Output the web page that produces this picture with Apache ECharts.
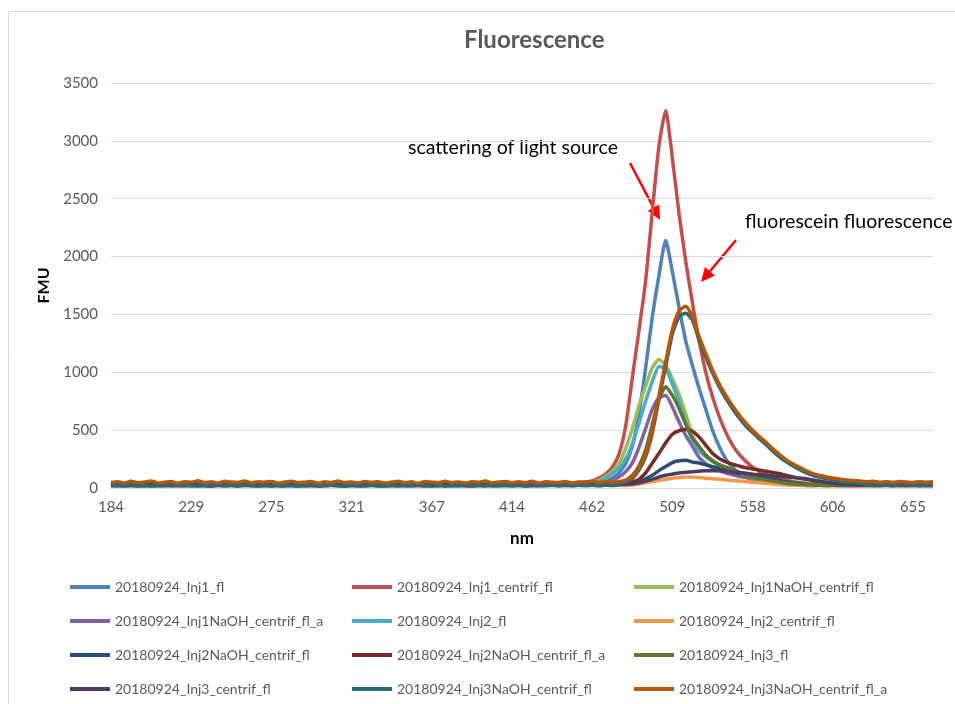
<!DOCTYPE html>
<html>
<head>
<meta charset="UTF-8">
<title>Fluorescence</title>
<script src="https://cdn.jsdelivr.net/npm/echarts@6/dist/echarts.min.js"></script>
<style>
  html, body { margin: 0; padding: 0; background: #fff; }
  #chart { width: 955px; height: 704px; }
</style>
</head>
<body>
<div id="chart"></div>
<script>
// wavelength labels shown on the x axis (every 12th category)
const nmTicks = [184, 229, 275, 321, 367, 414, 462, 509, 558, 606, 655];
const stepsPerTick = 12;
const tailSteps = 4;

const seriesNames = [
  '20180924_Inj1_fl', '20180924_Inj1_centrif_fl', '20180924_Inj1NaOH_centrif_fl',
  '20180924_Inj1NaOH_centrif_fl_a', '20180924_Inj2_fl', '20180924_Inj2_centrif_fl',
  '20180924_Inj2NaOH_centrif_fl', '20180924_Inj2NaOH_centrif_fl_a', '20180924_Inj3_fl',
  '20180924_Inj3_centrif_fl', '20180924_Inj3NaOH_centrif_fl', '20180924_Inj3NaOH_centrif_fl_a'
];
const colors = ['#4F81BD', '#C0504D', '#9BBB59', '#8064A2', '#4BACC6', '#F79646',
                '#2C4D75', '#772C2A', '#5F7530', '#4D3B62', '#276A7C', '#B65708'];

// FMU values, one per category
const inj1_fl = [
  28,32,25,30,27,34,26,31,29,24,33,28, 30,26,33,27,31,25,29,34,27,30,26,32,
  27,31,24,29,33,28,25,30,27,32,26,29, 31,25,28,33,27,30,24,29,32,26,30,28,
  26,32,29,25,31,27,33,28,24,30,27,31, 29,25,32,28,30,26,33,27,31,29,34,32,
  38,40,55,85,130,210,360,640,1040,1480,1840,2140,
  1870,1560,1270,1060,860,680,500,360,250,180,130,95,
  70,55,45,38,33,30,28,31,26,29,27,30, 25,28,31,26,29,24,30,27,25,29,26,28, 24,27,25,28];
const inj1_centrif_fl = [
  35,30,38,33,36,31,39,34,30,37,32,36, 33,38,31,36,34,30,37,33,39,31,35,32,
  37,32,35,30,38,34,31,36,33,39,30,35, 32,36,34,38,30,35,33,37,31,36,34,30,
  36,31,37,33,35,39,32,34,30,37,33,36, 34,38,31,35,33,37,36,40,38,42,48,52,
  60,85,120,180,290,530,950,1360,1790,2390,2960,3260,
  2850,2370,1960,1600,1270,1000,790,620,480,370,290,230,
  180,145,115,95,75,65,55,48,42,38,35,33, 36,31,34,30,33,29,35,31,32,28,34,30, 32,29,33,30];
const inj1NaOH_centrif_fl = [
  30,26,33,28,31,25,32,29,27,34,28,30, 27,32,29,25,31,28,34,26,30,33,27,29,
  32,28,25,30,34,27,31,26,29,33,28,25, 29,33,27,31,25,30,28,34,26,32,29,27,
  31,27,34,29,26,32,28,30,25,33,29,31, 28,32,26,30,29,33,31,35,34,38,40,45,
  50,65,100,145,210,340,510,710,880,1040,1110,1060,
  945,810,640,460,350,285,240,205,175,150,130,110,
  95,80,70,60,50,42,36,33,30,34,29,31, 28,32,27,30,26,31,29,27,32,28,30,26, 29,27,31,28];
const inj1NaOH_centrif_fl_a = [
  27,31,25,29,33,26,30,28,32,25,29,31, 26,30,33,27,29,32,25,31,28,34,27,30,
  31,26,29,33,27,30,25,32,28,26,31,29, 25,30,28,32,26,31,29,27,33,28,25,30,
  29,33,26,30,28,25,32,27,31,29,34,26, 30,27,32,28,31,29,33,30,35,34,38,40,
  42,45,55,70,95,140,215,350,515,680,780,800,
  700,570,455,360,265,210,175,150,130,115,100,90,
  80,70,60,50,44,38,34,31,29,33,28,30, 27,31,26,29,32,28,25,30,27,29,26,31, 28,25,29,27];
const inj2_fl = [
  20,16,23,18,21,15,22,19,17,24,18,20, 17,22,19,15,21,18,24,16,20,23,17,19,
  22,18,15,20,24,17,21,16,19,23,18,15, 19,23,17,21,15,20,18,24,16,22,19,17,
  21,17,24,19,16,22,18,20,15,23,19,21, 18,22,16,20,19,23,21,25,24,28,32,36,
  40,55,80,125,170,250,380,560,750,920,1050,1030,
  900,740,560,420,320,270,230,200,175,150,130,112,
  95,80,65,55,45,36,30,25,22,19,23,18, 21,17,20,16,22,18,19,15,21,17,20,16, 19,16,20,17];
const inj2_centrif_fl = [
  18,22,16,20,24,17,21,19,15,23,18,21, 20,16,23,18,21,15,22,19,24,17,20,16,
  17,21,19,23,16,20,18,22,15,21,19,23, 22,18,15,21,19,24,17,20,23,16,20,18,
  16,20,22,18,24,19,15,21,17,23,18,20, 21,17,20,16,22,19,23,18,21,20,22,19,
  22,20,23,21,24,22,25,35,45,55,65,75,
  85,90,95,95,90,85,80,75,70,65,60,55,
  50,45,40,36,32,28,26,23,21,19,22,18, 20,17,21,18,16,20,19,17,21,18,16,19, 18,20,17,19];
const inj2NaOH_centrif_fl = [
  25,21,28,23,26,20,27,24,22,29,23,25, 22,27,24,20,26,23,29,21,25,28,22,24,
  27,23,20,25,29,22,26,21,24,28,23,20, 24,28,22,26,20,25,23,29,21,27,24,22,
  26,22,29,24,21,27,23,25,20,28,24,26, 23,27,21,25,24,28,26,24,27,25,28,26,
  29,27,30,28,32,35,40,55,80,110,150,185,
  220,235,240,225,215,200,185,170,150,135,125,115,
  105,95,85,75,65,55,45,38,32,28,25,29, 24,27,22,26,23,25,21,27,24,22,26,23, 25,22,26,24];
const inj2NaOH_centrif_fl_a = [
  30,34,27,32,29,35,28,31,33,26,30,34, 28,32,35,29,31,27,33,30,34,28,32,29,
  33,29,31,35,28,32,30,27,34,31,29,33, 27,31,34,29,32,28,35,30,27,33,29,31,
  32,28,30,34,27,31,29,33,30,28,35,29, 31,34,28,32,30,27,33,31,29,34,30,32,
  28,33,30,34,31,40,50,75,130,215,300,390,
  465,495,505,490,440,370,300,255,225,205,190,175,
  165,155,145,135,125,110,95,85,75,65,55,45, 40,36,33,30,34,29,32,28,31,27,33,30, 29,32,28,31];
const inj3_fl = [
  29,33,27,31,25,30,34,28,32,26,30,28, 31,27,30,34,26,29,32,28,25,31,33,27,
  26,30,33,28,31,25,29,34,27,30,28,32, 30,26,29,32,28,34,27,31,25,29,33,28,
  33,29,25,31,27,30,34,26,32,28,30,27, 28,31,27,33,29,26,32,30,28,33,30,34,
  31,35,33,35,45,65,110,190,330,550,770,875,
  800,690,550,430,360,285,235,200,180,158,135,110,
  95,80,70,60,50,42,36,32,29,33,28,31, 27,30,26,29,32,28,25,30,27,31,26,29, 28,25,30,27];
const inj3_centrif_fl = [
  31,27,34,29,26,32,28,30,25,33,29,27, 30,26,32,28,34,27,31,29,25,32,28,30,
  28,33,27,30,26,31,29,34,28,25,30,32, 26,30,33,27,31,29,25,32,28,30,27,33,
  30,26,28,32,29,33,27,31,26,30,28,25, 32,28,30,27,33,29,31,28,30,33,29,31,
  30,32,29,33,31,34,35,45,60,75,95,110,
  120,130,135,140,145,150,150,148,145,140,135,128,
  120,115,110,105,100,95,90,85,80,70,60,50, 40,36,33,30,34,29,32,28,31,27,33,30, 29,32,28,31];
const inj3NaOH_centrif_fl = [
  19,23,17,21,16,22,18,20,24,17,21,19, 22,18,20,16,23,19,21,17,24,20,18,22,
  17,21,23,19,16,20,22,18,21,24,19,17, 21,17,19,23,20,16,22,18,21,19,23,20,
  18,22,16,20,24,19,17,21,23,18,20,22, 20,24,18,22,19,21,23,20,22,19,24,21,
  23,20,24,22,30,50,80,155,270,475,770,1050,
  1330,1480,1510,1450,1280,1130,995,875,775,685,605,535,
  480,425,375,320,270,228,192,160,132,110,94,80, 70,60,52,45,40,34,30,27,24,28,22,26, 23,25,21,24];
const inj3NaOH_centrif_fl_a = [
  48,55,42,58,45,52,60,44,50,57,41,53, 49,62,46,55,43,58,51,47,60,44,54,50,
  57,42,52,59,45,50,56,41,53,48,61,46, 52,44,57,49,55,43,51,58,46,53,40,56,
  50,45,59,47,52,43,55,49,61,44,51,57, 46,53,48,58,42,55,50,47,56,44,52,49,
  58,45,53,50,56,68,95,175,290,500,800,1090,
  1370,1530,1570,1480,1310,1160,1020,900,800,710,630,560,
  500,445,395,340,290,245,210,180,150,125,110,95, 86,78,70,64,60,55,58,50,54,48,56,52, 47,55,50,53];

const seriesData = [inj1_fl, inj1_centrif_fl, inj1NaOH_centrif_fl, inj1NaOH_centrif_fl_a,
  inj2_fl, inj2_centrif_fl, inj2NaOH_centrif_fl, inj2NaOH_centrif_fl_a,
  inj3_fl, inj3_centrif_fl, inj3NaOH_centrif_fl, inj3NaOH_centrif_fl_a];

// category names: wavelengths between the labelled ticks
const categories = [];
for (let j = 0; j < nmTicks.length - 1; j++) {
  for (let s = 0; s < stepsPerTick; s++) {
    categories.push(String(Math.round(nmTicks[j] + (nmTicks[j + 1] - nmTicks[j]) * s / stepsPerTick)));
  }
}
for (let s = 0; s < tailSteps; s++) {
  categories.push(String(Math.round(655 + 49 * s / stepsPerTick)));
}

const font = 'Lato';
const grey = '#595959';

let chart = echarts.init(document.getElementById('chart'), null, { renderer: 'canvas' });

let series = seriesNames.map((name, k) => ({
  name: name,
  type: 'line',
  data: seriesData[k],
  symbol: 'none',
  smooth: 0.2,
  lineStyle: { width: 3.5, color: colors[k] },
  itemStyle: { color: colors[k] },
  emphasis: { disabled: true },
  z: 2 + k
}));

function legendCol(idx, left) {
  return {
    data: idx.map(i => seriesNames[i]),
    orient: 'vertical',
    left: left,
    top: 575,
    itemGap: 20,
    itemWidth: 40,
    itemHeight: 4,
    icon: 'rect',
    selectedMode: false,
    textStyle: { fontFamily: font, fontSize: 14, color: grey }
  };
}

function arrow(x1, y1, x2, y2) {
  const dx = x2 - x1, dy = y2 - y1;
  const len = Math.sqrt(dx * dx + dy * dy);
  const ux = dx / len, uy = dy / len;
  const hl = 14, hw = 6.5;
  const bx = x2 - ux * hl, by = y2 - uy * hl;
  return [
    { type: 'line', shape: { x1: x1, y1: y1, x2: bx, y2: by }, style: { stroke: '#FF0000', lineWidth: 2.5 } },
    { type: 'polygon', shape: { points: [[x2, y2], [bx - uy * hw, by + ux * hw], [bx + uy * hw, by - ux * hw]] },
      style: { fill: '#FF0000' } }
  ];
}

chart.setOption({
  animation: false,
  backgroundColor: '#fff',
  color: colors,
  title: {
    text: 'Fluorescence',
    left: 459,
    top: 23,
    textStyle: { fontFamily: font, fontSize: 24, fontWeight: 'bold', color: grey }
  },
  grid: { left: 111, right: 22, top: 83, bottom: 216 },
  xAxis: {
    type: 'category',
    data: categories,
    boundaryGap: false,
    name: 'nm',
    nameLocation: 'middle',
    nameGap: 42,
    nameTextStyle: { fontFamily: font, fontSize: 17, fontWeight: 'bold', color: '#000' },
    axisLine: { lineStyle: { color: '#D9D9D9', width: 1 } },
    axisTick: { show: false },
    axisLabel: { interval: stepsPerTick - 1, margin: 12, fontFamily: font, fontSize: 15, color: grey },
    splitLine: { show: false }
  },
  yAxis: {
    type: 'value',
    min: 0,
    max: 3500,
    interval: 500,
    name: 'FMU',
    nameLocation: 'middle',
    nameGap: 58,
    nameRotate: 90,
    nameTextStyle: { fontFamily: font, fontSize: 16, fontWeight: 'bold', color: '#000' },
    axisLine: { show: false },
    axisTick: { show: false },
    axisLabel: { margin: 13, fontFamily: font, fontSize: 15, color: grey, formatter: v => String(v) },
    splitLine: { lineStyle: { color: '#D9D9D9', width: 1 } }
  },
  legend: [
    legendCol([0, 3, 6, 9], 65),
    legendCol([1, 4, 7, 10], 347),
    legendCol([2, 5, 8, 11], 629)
  ],
  graphic: [
    { type: 'rect', shape: { x: 8.5, y: 11.5, width: 1000, height: 1000 },
      style: { fill: 'none', stroke: '#D9D9D9', lineWidth: 1 }, silent: true },
    { type: 'text',
      style: { x: 408, y: 148, text: 'scattering of light source', font: '19.5px Lato',
               fill: '#000', verticalAlign: 'middle' } },
    { type: 'text',
      style: { x: 745, y: 222, text: 'fluorescein fluorescence', font: '19.5px Lato',
               fill: '#000', verticalAlign: 'middle' } }
  ].concat(arrow(630, 163, 660, 220)).concat(arrow(736, 240, 701, 282)),
  series: series
});
</script>
</body>
</html>
